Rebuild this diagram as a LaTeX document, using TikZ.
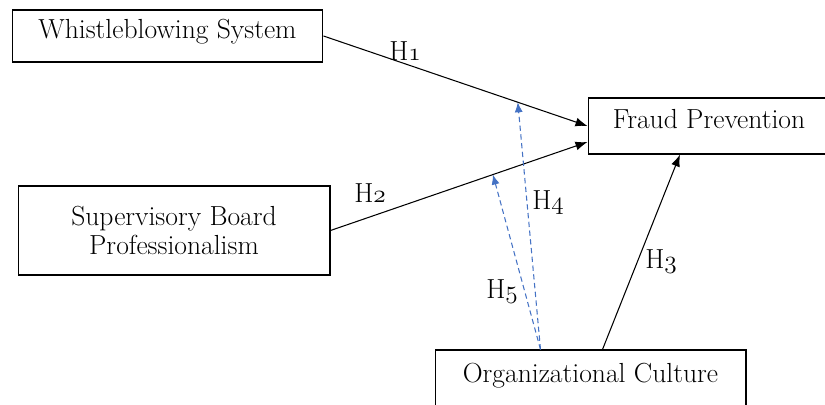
\documentclass[tikz,border=0pt]{standalone}
\usepackage{xcolor}
\usepackage{tikz}
\usetikzlibrary{positioning}
\usetikzlibrary{calc}
\usetikzlibrary{arrows.meta}
\definecolor{hypblue}{HTML}{4472C4}
\newcommand\hyplabel[1]{H$\oldstylenums{#1}$}

\begin{document}
\begin{tikzpicture}[x=0.02cm,y=-0.02cm,
font=\fontsize{15.7}{16.5}\selectfont,
varbox/.style={draw,line width=0.6pt,inner sep=2pt},
onebox/.style={varbox,text depth=0.3cm},
hyparrow/.style={line width=0.6pt,-{Latex[length=2.4mm,width=1.8mm]}},
modarrow/.style={hypblue,line width=0.6pt,dash pattern=on 3pt off 2pt,-{Latex[length=2mm,width=1.6mm]}},
hyptext/.style={inner sep=0pt}]
\useasboundingbox (0,0) rectangle (825,405);
\clip (0,0) rectangle (825,405);

%boxes:
\node[onebox,minimum width=6.22cm,minimum height=1.04cm] (wb) at (167.5,36) {Whistleblowing System};
\node[varbox,align=center,minimum width=6.24cm,minimum height=1.78cm] (sb) at (174,230.5) {Supervisory Board\\Professionalism};
\node[onebox,minimum width=4.84cm,minimum height=1.12cm] (fp) at (709,126) {Fraud Prevention};
\node[onebox,minimum width=6.22cm,minimum height=1.2cm] (oc) at (590.5,380) {Organizational Culture};

%----------direct paths
\coordinate (h2end) at ($(fp.west)+(0,16)$);
\draw[hyparrow] (wb.east) -- coordinate[pos=0.736] (h1mid) (fp.west);
\draw[hyparrow] (sb.east) -- coordinate[pos=0.632] (h2mid) (h2end);
\coordinate (h3start) at ($(oc.north)+(12,0)$);
\coordinate (h3end) at ($(fp.south)+(-29,0)$);
\draw[hyparrow] (h3start) -- (h3end);

%----------moderation (dashed)
\coordinate (ocmod) at ($(oc.north)+(-50,0)$);
\draw[modarrow] (ocmod) -- (h1mid);
\draw[modarrow] (ocmod) -- (h2mid);

%labels:
\node[hyptext] (l1) at (405,51) {\hyplabel{1}};
\node[hyptext] (l2) at (370,193) {\hyplabel{2}};
\node[hyptext] (l3) at (661,262) {\hyplabel{3}};
\node[hyptext] (l4) at (548,203) {\hyplabel{4}};
\node[hyptext] (l5) at (502,292) {\hyplabel{5}};

\end{tikzpicture}
\end{document}
